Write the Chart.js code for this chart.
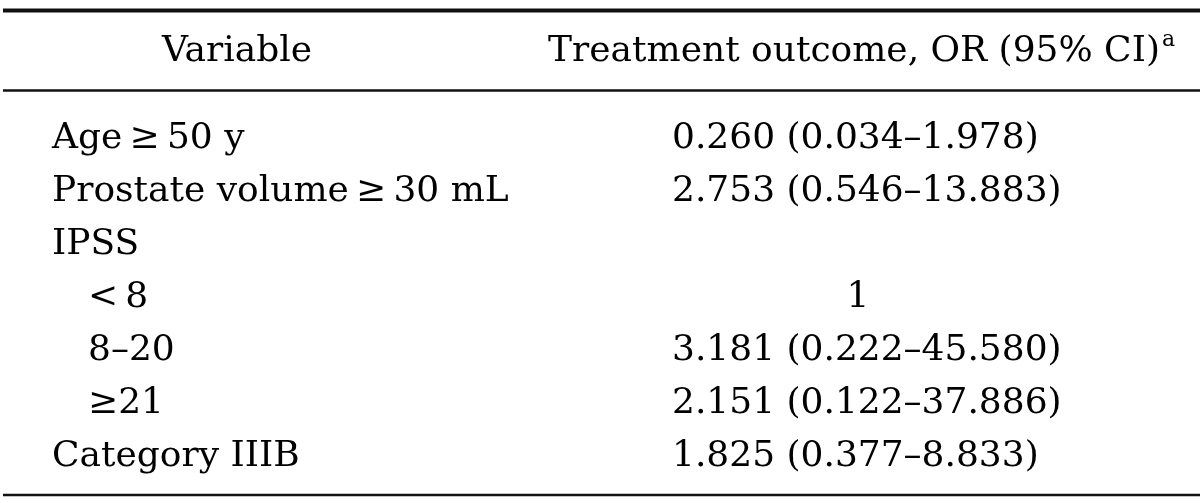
<!DOCTYPE html>
<html>
<head>
<meta charset="utf-8">
<script src="https://cdn.jsdelivr.net/npm/chart.js@4"></script>
<style>
  html, body { margin: 0; padding: 0; background: #fff; }
  #wrap { width: 1200px; height: 503px; position: relative; }
</style>
</head>
<body>
<div id="wrap"><canvas id="js-table-or"></canvas></div>
<script>
// Table content
const headers = ["Variable", "Treatment outcome, OR (95% CI)"];
const headerNote = "a";
const variables = ["Age\u2009\u2265\u200950 y", "Prostate volume\u2009\u2265\u200930 mL", "IPSS", "<\u20098", "8\u201320", "\u226521", "Category IIIB"];
const subRow = [false, false, false, true, true, true, false];
const oddsRatio = ["0.260", "2.753", "", "1", "3.181", "2.151", "1.825"];
const ciLower = ["0.034", "0.546", "", "", "0.222", "0.122", "0.377"];
const ciUpper = ["1.978", "13.883", "", "", "45.580", "37.886", "8.833"];
const rowIndex = variables.map((_, i) => i + 1);

const FONT = '"DejaVu Serif", "Liberation Serif", serif';

const tablePlugin = {
    id: "tableText",
    afterDatasetsDraw(chart) {
        const { ctx, scales: { x, y } } = chart;
        const size = 36;
        ctx.save();
        ctx.fillStyle = "#000";
        ctx.textBaseline = "alphabetic";
        const base = (v) => y.getPixelForValue(v) + size * 0.36;

        // rules
        ctx.strokeStyle = "#111";
        const rule = (v, w) => {
            ctx.lineWidth = w;
            ctx.beginPath();
            ctx.moveTo(x.getPixelForValue(3), y.getPixelForValue(v));
            ctx.lineTo(x.getPixelForValue(1200), y.getPixelForValue(v));
            ctx.stroke();
        };
        rule(-1.35, 4);
        rule(0.16, 2.5);
        rule(7.79, 2.5);

        // header
        ctx.font = size + "px " + FONT;
        ctx.textAlign = "center";
        ctx.fillText(headers[0], x.getPixelForValue(237), base(-0.642));
        const hw = ctx.measureText(headers[1]).width;
        const hx = x.getPixelForValue(854) - hw / 2;
        ctx.textAlign = "left";
        ctx.fillText(headers[1], hx, base(-0.642));
        ctx.font = Math.round(size * 0.6) + "px " + FONT;
        ctx.fillText(headerNote, hx + hw + 2, base(-0.642) - size * 0.42);

        // body
        ctx.font = size + "px " + FONT;
        rowIndex.forEach((r, i) => {
            ctx.textAlign = "left";
            ctx.fillText(variables[i], x.getPixelForValue(subRow[i] ? 88 : 52), base(r));
            if (!oddsRatio[i]) return;
            if (!ciLower[i]) {
                ctx.textAlign = "center";
                ctx.fillText(oddsRatio[i], x.getPixelForValue(858), base(r));
            } else {
                ctx.fillText(`${oddsRatio[i]} (${ciLower[i]}\u2013${ciUpper[i]})`, x.getPixelForValue(672), base(r));
            }
        });
        ctx.restore();
    }
};

new Chart(document.getElementById("js-table-or"), {
    type: "scatter",
    data: {
        datasets: [{
            data: rowIndex.map((r) => ({ x: 52, y: r })),
            pointRadius: 0,
            showLine: false
        }]
    },
    options: {
        responsive: true,
        maintainAspectRatio: false,
        animation: false,
        events: [],
        layout: { padding: 0 },
        scales: {
            x: { type: "linear", min: 0, max: 1200, display: false },
            y: { type: "linear", min: -1.547, max: 7.943, reverse: true, display: false }
        },
        plugins: {
            legend: { display: false },
            tooltip: { enabled: false }
        }
    },
    plugins: [tablePlugin]
});
</script>
</body>
</html>
